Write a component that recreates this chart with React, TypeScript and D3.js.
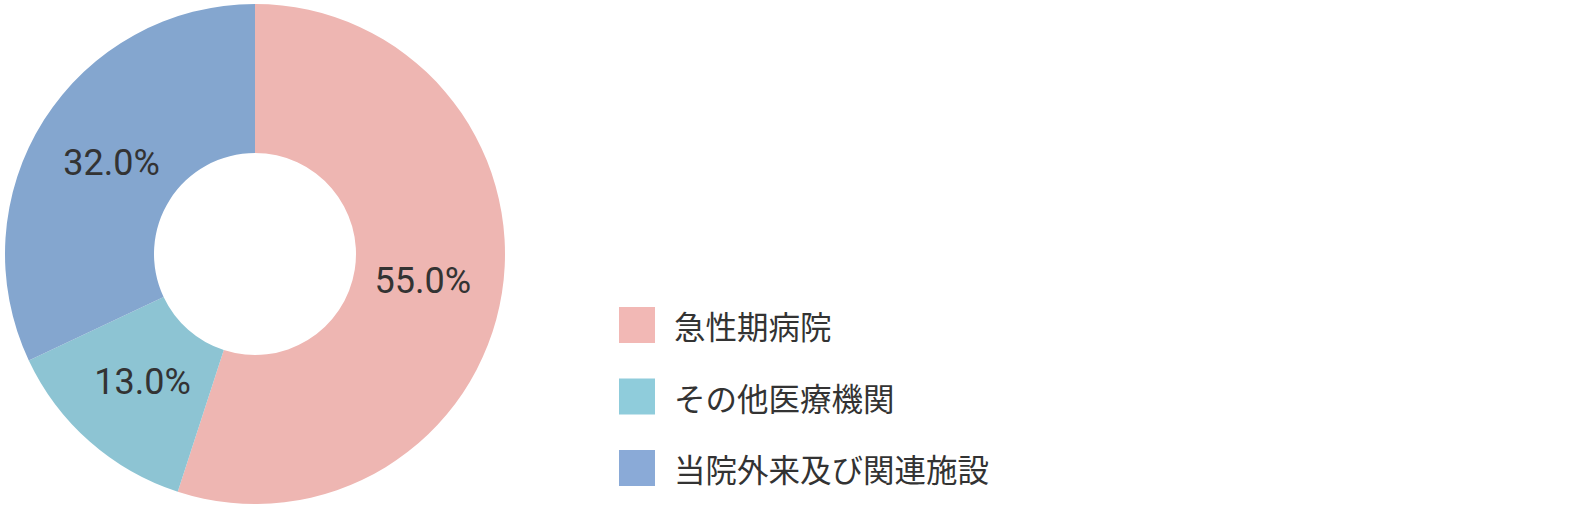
import React from 'react';
import * as d3 from 'd3';

const categories = ['急性期病院', 'その他医療機関', '当院外来及び関連施設'];
const shares = [55.0, 13.0, 32.0];
const sliceColors = ['#EEB6B2', '#8DC4D3', '#84A6CF'];
const legendColors = ['#F2B8B5', '#8FCCDB', '#8AAAD7'];

const App = () => {
  const width = 1580;
  const height = 510;
  const cx = 255;
  const cy = 254;
  const outerR = 250;
  const innerR = 101;

  const pie = d3.pie<number>().sort(null).value((d) => d);
  const arcs = pie(shares);
  const arcGen = d3.arc<d3.PieArcDatum<number>>().innerRadius(innerR).outerRadius(outerR);
  // labels sit a bit inside the ring's middle
  const labelArc = d3.arc<d3.PieArcDatum<number>>().innerRadius(170).outerRadius(170);

  return (
    <>
      <style>{`html,body{margin:0;padding:0;overflow:hidden}`}</style>
      <svg
        width={width}
        height={height}
        style={{ display: 'block', fontFamily: "'Noto Sans CJK JP', 'Noto Sans', sans-serif" }}
      >
        <rect width={width} height={height} fill="#fff" />
        <g transform={`translate(${cx}, ${cy})`}>
          {arcs.map((a, i) => (
            <path key={i} d={arcGen(a) || undefined} fill={sliceColors[i]} />
          ))}
          {arcs.map((a, i) => {
            const [x, y] = labelArc.centroid(a);
            return (
              <text
                key={'t' + i}
                x={x}
                y={y + 12}
                textAnchor="middle"
                fill="#333"
                style={{ fontFamily: 'Roboto, sans-serif', fontSize: '36px' }}
              >
                {shares[i].toFixed(1)}%
              </text>
            );
          })}
        </g>
        {categories.map((c, i) => (
          <g key={c} transform={`translate(619, ${307 + i * 71.5})`}>
            <rect width={36} height={36} fill={legendColors[i]} />
            <text x={55} y={18} dominantBaseline="central" fill="#333" style={{ fontSize: '31.5px' }}>
              {c}
            </text>
          </g>
        ))}
      </svg>
    </>
  );
};

export default App;
